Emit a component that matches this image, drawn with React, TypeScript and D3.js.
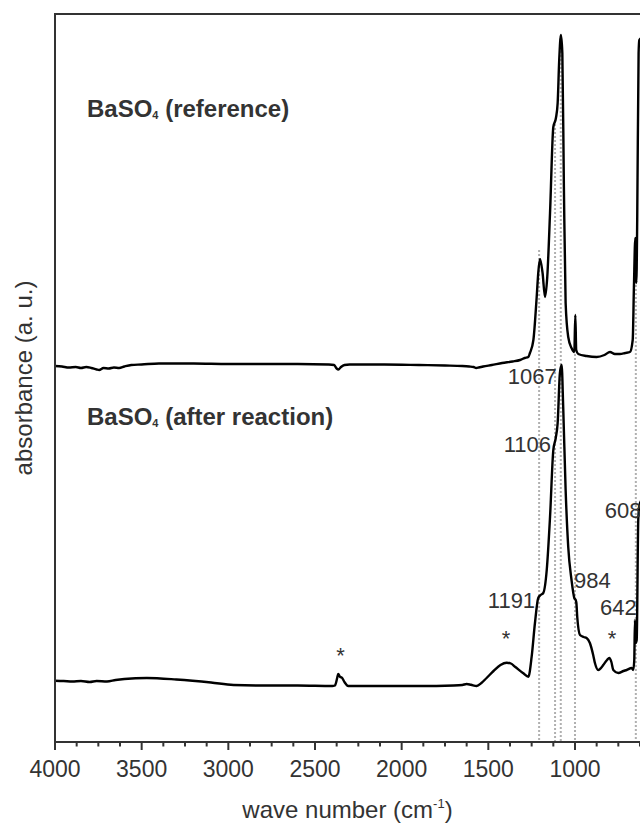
import React from 'react';
import * as d3 from 'd3';

const W = 640;
const H = 831;

// BaSO4 (reference) spectrum: wave number (cm-1) / absorbance (a.u., offset)
const refWn = [4000, 3960, 3920, 3880, 3850, 3820, 3790, 3760, 3745, 3720, 3690, 3660, 3630, 3600, 3560, 3500, 3400, 3200, 3000, 2800, 2600, 2420, 2390, 2375, 2365, 2350, 2330, 2300, 2100, 1900, 1750, 1650, 1610, 1585, 1570, 1555, 1530, 1480, 1420, 1360, 1317, 1290, 1269, 1260, 1240, 1221, 1212, 1202, 1187, 1173, 1160, 1144, 1125, 1110, 1100, 1091, 1081, 1073, 1064, 1054, 1039, 1020, 1004, 998, 993, 981, 933, 875, 830, 798, 770, 741, 710, 683, 667, 660, 652, 646, 641, 633, 629, 615, 600];
const refAbs = [3.76, 3.755, 3.745, 3.75, 3.74, 3.75, 3.74, 3.725, 3.72, 3.74, 3.735, 3.745, 3.74, 3.755, 3.77, 3.775, 3.785, 3.785, 3.78, 3.78, 3.78, 3.775, 3.77, 3.735, 3.725, 3.75, 3.77, 3.775, 3.775, 3.77, 3.765, 3.76, 3.755, 3.75, 3.74, 3.745, 3.755, 3.77, 3.79, 3.805, 3.82, 3.84, 3.85, 3.89, 4.02, 4.45, 4.69, 4.83, 4.69, 4.45, 4.65, 5.29, 6.15, 6.24, 6.39, 6.82, 7.07, 6.89, 5.55, 4.39, 4.05, 3.94, 3.9, 4.27, 3.92, 3.88, 3.86, 3.85, 3.87, 3.9, 3.88, 3.88, 3.89, 3.9, 4.02, 4.55, 5.04, 4.59, 5.22, 6.89, 7.02, 7.04, 6.82];

// BaSO4 (after reaction) spectrum
const rxnWn = [4000, 3950, 3900, 3850, 3800, 3760, 3700, 3650, 3600, 3470, 3300, 3100, 2970, 2800, 2600, 2400, 2385, 2372, 2366, 2355, 2346, 2330, 2308, 2100, 1900, 1700, 1650, 1625, 1600, 1567, 1540, 1510, 1470, 1430, 1394, 1370, 1346, 1298, 1269, 1250, 1231, 1212, 1198, 1183, 1163, 1144, 1125, 1111, 1100, 1087, 1077, 1068, 1054, 1039, 1020, 1004, 996, 992, 987, 971, 950, 933, 914, 895, 885, 866, 850, 837, 815, 802, 790, 779, 750, 720, 702, 673, 664, 658, 654, 650, 644, 635, 628, 615];
const rxnAbs = [0.613, 0.61, 0.605, 0.61, 0.6, 0.61, 0.605, 0.62, 0.63, 0.64, 0.625, 0.595, 0.57, 0.565, 0.565, 0.56, 0.565, 0.64, 0.68, 0.65, 0.645, 0.6, 0.56, 0.56, 0.56, 0.565, 0.57, 0.58, 0.572, 0.56, 0.59, 0.64, 0.71, 0.77, 0.793, 0.785, 0.753, 0.687, 0.653, 0.853, 1.19, 1.44, 1.47, 1.49, 1.72, 2.25, 2.92, 3.04, 3.19, 3.69, 3.77, 3.35, 2.52, 1.95, 1.62, 1.44, 1.42, 1.39, 1.25, 1.07, 1.05, 1.04, 0.99, 0.87, 0.79, 0.72, 0.74, 0.77, 0.82, 0.84, 0.8, 0.72, 0.69, 0.71, 0.72, 0.74, 0.72, 0.82, 1.22, 0.99, 1.02, 2.22, 2.37, 2.42];

// axis ticks
const majorTicks = [4000, 3500, 3000, 2500, 2000, 1500, 1000];
const minorTicks = d3.range(4000, 600, -125).filter((v) => !majorTicks.includes(v));

// marked bands: dotted guide positions and their top (a.u.)
const guideWn = [1207, 1115, 1082, 1000, 649];
const guideTop = [4.92, 6.22, 7.07, 3.92, 5.05];

// peak labels
const peakText = ['1191', '1106', '1067', '984', '642', '608'];
const peakWn = [1207, 1115, 1082, 1000, 649, 620];
// label layout (dx from guide, baseline y, anchor)
const peakLayout = [
  { dx: -4, y: 608, anchor: 'end' },
  { dx: -4, y: 452, anchor: 'end' },
  { dx: -4, y: 383.5, anchor: 'end' },
  { dx: -1, y: 588, anchor: 'start' },
  { dx: 1, y: 615, anchor: 'end' },
  { dx: -36, y: 518, anchor: 'start' },
];

// asterisks (artefact bands)
const starWn = [2352, 1398, 787];
const starY = [662.5, 645.5, 645.5];

const FONT = '"Liberation Sans", Arial, Helvetica, sans-serif';
const TEXT = '#333';
const AXIS = '#333';

export default function App() {
  const left = 55;
  const top = 14;
  const bottom = 742;
  const pxPerUnit = 0.17333;
  const x = d3.scaleLinear().domain([4000, 500]).range([left, left + 3500 * pxPerUnit]);
  const y = d3.scaleLinear().domain([0, 7.28]).range([bottom, top]);
  const line = d3
    .line<[number, number]>()
    .x((d) => x(d[0]))
    .y((d) => y(d[1]))
    .curve(d3.curveMonotoneX);

  const refPts = refWn.map((w, i) => [w, refAbs[i]] as [number, number]);
  const rxnPts = rxnWn.map((w, i) => [w, rxnAbs[i]] as [number, number]);

  return (
    <div style={{ position: 'absolute', left: 0, top: 0 }}>
      <svg width={W} height={H} style={{ display: 'block', background: '#fff' }} fontFamily={FONT}>
        <defs>
          <clipPath id="plot">
            <rect x={left} y={top} width={W - left} height={bottom - top} />
          </clipPath>
        </defs>
        <rect x={0} y={0} width={W} height={H} fill="#fff" />

        {/* dotted guides */}
        <g clipPath="url(#plot)">
          {guideWn.map((w, i) => (
            <line
              key={'g' + i}
              x1={x(w)}
              x2={x(w)}
              y1={y(guideTop[i])}
              y2={bottom}
              stroke="#b0b0b0"
              strokeWidth={2}
              strokeDasharray="2,2"
            />
          ))}
        </g>

        {/* spectra */}
        <g clipPath="url(#plot)">
          <path d={line(refPts) || ''} fill="none" stroke="#000" strokeWidth={2.4} strokeLinejoin="round" />
          <path d={line(rxnPts) || ''} fill="none" stroke="#000" strokeWidth={2.4} strokeLinejoin="round" />
        </g>

        {/* frame */}
        <line x1={left} x2={W} y1={top} y2={top} stroke={AXIS} strokeWidth={2} />
        <line x1={left} x2={left} y1={top - 1} y2={bottom + 1} stroke={AXIS} strokeWidth={2} />
        <line x1={left - 1} x2={W} y1={bottom} y2={bottom} stroke={AXIS} strokeWidth={2} />

        {/* ticks */}
        {majorTicks.map((t) => (
          <g key={'M' + t}>
            <line x1={x(t)} x2={x(t)} y1={bottom} y2={bottom + 8} stroke={AXIS} strokeWidth={2} />
            <text x={x(t)} y={777} textAnchor="middle" fontSize={23} fill={TEXT}>
              {t}
            </text>
          </g>
        ))}
        {minorTicks.map((t) => (
          <line key={'m' + t} x1={x(t)} x2={x(t)} y1={bottom} y2={bottom + 4.5} stroke={AXIS} strokeWidth={2} />
        ))}

        {/* axis titles */}
        <text x={(left + W) / 2} y={818} textAnchor="middle" fontSize={24} fill={TEXT}>
          wave number (cm
          <tspan fontSize={13} dy={-10}>
            -1
          </tspan>
          <tspan dy={10}>)</tspan>
        </text>
        <text
          transform={`translate(32, ${(top + bottom) / 2}) rotate(-90)`}
          textAnchor="middle"
          fontSize={24}
          fill={TEXT}
        >
          absorbance (a. u.)
        </text>

        {/* sample labels */}
        <text x={87} y={117} fontSize={24} fontWeight="bold" fill={TEXT}>
          BaSO<tspan fontSize={11} dy={2}>4</tspan>
          <tspan dy={-2}> (reference)</tspan>
        </text>
        <text x={87} y={425} fontSize={24} fontWeight="bold" fill={TEXT}>
          BaSO<tspan fontSize={11} dy={2}>4</tspan>
          <tspan dy={-2}> (after reaction)</tspan>
        </text>

        {/* peak labels */}
        {peakText.map((t, i) => (
          <text
            key={'p' + i}
            x={x(peakWn[i]) + peakLayout[i].dx}
            y={peakLayout[i].y}
            textAnchor={peakLayout[i].anchor as any}
            fontSize={22}
            fill={TEXT}
          >
            {t}
          </text>
        ))}

        {/* asterisks */}
        {starWn.map((w, i) => (
          <text key={'s' + i} x={x(w)} y={starY[i]} textAnchor="middle" fontSize={22} fill={TEXT}>
            *
          </text>
        ))}
      </svg>
    </div>
  );
}
